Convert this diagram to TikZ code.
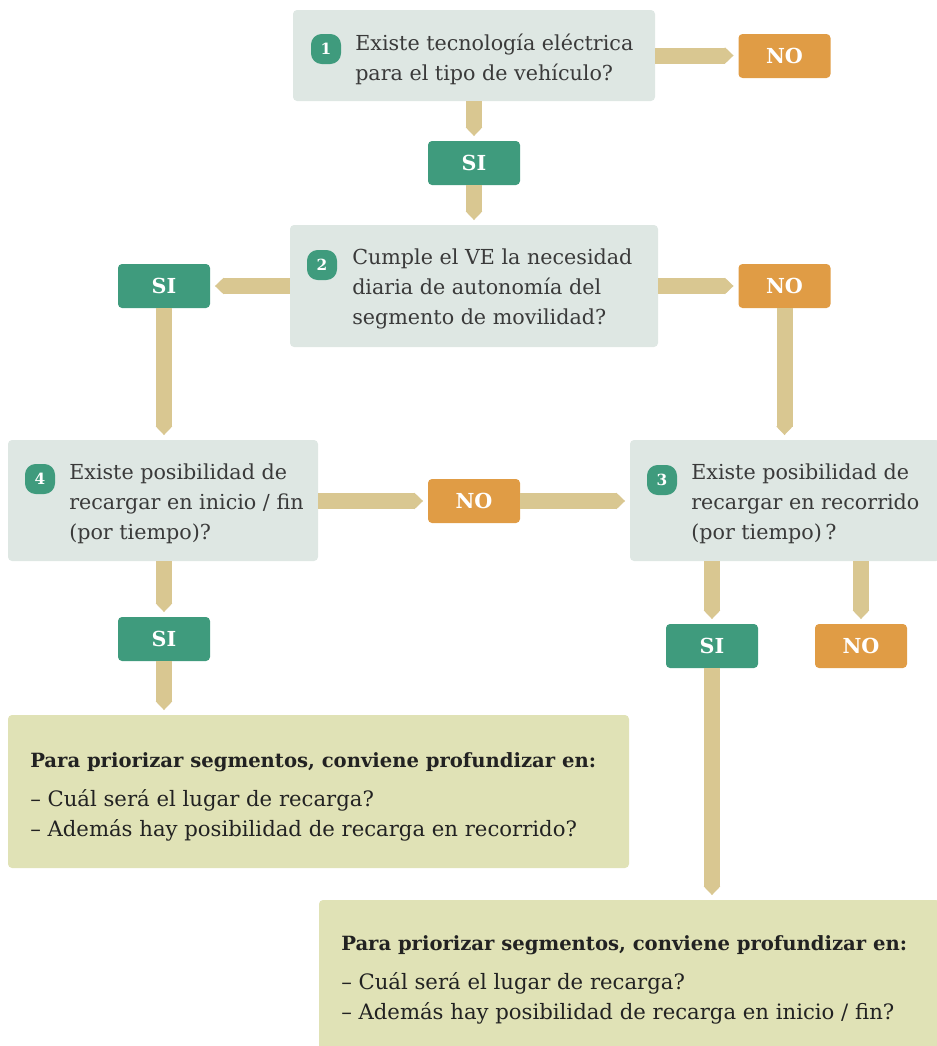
\documentclass[tikz,border=0pt]{standalone}
\usepackage{fontspec}
\setmainfont{DejaVu Serif}
\usepackage{tikz}
\usetikzlibrary{arrows.meta,positioning}
\definecolor{boxgray}{HTML}{DEE7E3}
\definecolor{sumgreen}{HTML}{E0E2B6}
\definecolor{sigreen}{HTML}{3F9B7D}
\definecolor{noorange}{HTML}{E09C45}
\definecolor{bandtan}{HTML}{D9C791}
\definecolor{inkgray}{HTML}{3A3A3A}
\definecolor{inkdark}{HTML}{222222}
\tikzset{
  question/.style={fill=boxgray, rounded corners=3pt, inner sep=0pt},
  summary/.style={fill=sumgreen, rounded corners=3pt, inner sep=0pt},
  answer/.style={rounded corners=3pt, minimum width=69pt, minimum height=33pt, inner sep=0pt,
    text=white, font=\fontsize{15.5}{15.5}\selectfont\bfseries},
  yes/.style={answer, fill=sigreen},
  no/.style={answer, fill=noorange},
  badge/.style={fill=sigreen, rounded corners=8pt, minimum size=22.5pt, inner sep=0pt,
    text=white, font=\fontsize{11.5}{11.5}\selectfont\bfseries},
  qtext/.style={anchor=north west, inner sep=0pt, align=left, text=inkgray,
    font=\fontsize{15.5}{22.5}\selectfont},
  stext/.style={anchor=north west, inner sep=0pt, align=left, text=inkdark,
    font=\fontsize{15.9}{23}\selectfont},
  band/.style={draw=bandtan, line width=12pt, -{Triangle[width=12pt,length=6.5pt]}, shorten >=3.5pt},
}
\begin{document}
\begin{tikzpicture}[x=0.75pt,y=-0.75pt]
  \useasboundingbox (0,0) rectangle (936,1046);

  \node[question, minimum width=271.5pt, minimum height=68.25pt] (q1) at (474,55.5) {};
  \node[badge] (b1) at (326,49) {1};
  \node[qtext] (t1) at (355,34) {Existe tecnología eléctrica\\para el tipo de vehículo?};
  \node[no] (no1) at (784.5,56) {NO};
  \node[yes] (si1) at (474,163) {SI};

  \node[question, minimum width=276pt, minimum height=91.5pt] (q2) at (474,286) {};
  \node[badge] (b2) at (322,265) {2};
  \node[qtext] (t2) at (352,249) {Cumple el VE la necesidad\\diaria de autonomía del\\segmento de movilidad?};
  \node[yes] (si2) at (164,286) {SI};
  \node[no] (no2) at (784.5,286) {NO};

  \node[question, minimum width=232.5pt, minimum height=90.75pt] (q4) at (163,500.5) {};
  \node[badge] (b4) at (40,479) {4};
  \node[qtext] (t4) at (69,464) {Existe posibilidad de\\recargar en inicio / fin\\(por tiempo)?};
  \node[question, minimum width=232.5pt, minimum height=90.75pt] (q3) at (785,500.5) {};
  \node[badge] (b3) at (662,480) {3};
  \node[qtext] (t3) at (691,464) {Existe posibilidad de\\recargar en recorrido\\(por tiempo)\,?};
  \node[no] (no4) at (474,501) {NO};

  \node[yes] (si4) at (164,639) {SI};
  \node[yes] (si3) at (712,646) {SI};
  \node[no] (no3) at (861,646) {NO};

  \node[summary, minimum width=465.75pt, minimum height=114.75pt] (s1) at (318.5,791.5) {};
  \node[stext] (st1) at (30,752) {{\bfseries\fontsize{14.7}{23}\selectfont Para priorizar segmentos, conviene profundizar en:}\\[6.25pt]
    – Cuál será el lugar de recarga?\\– Además hay posibilidad de recarga en recorrido?};
  \node[summary, minimum width=465.75pt, minimum height=120pt] (s2) at (629.5,980) {};
  \node[stext] (st2) at (341,935) {{\bfseries\fontsize{14.7}{23}\selectfont Para priorizar segmentos, conviene profundizar en:}\\[6.25pt]
    – Cuál será el lugar de recarga?\\– Además hay posibilidad de recarga en inicio / fin?};

  \draw[band] (q1.east) -- (q1.east -| no1.west);
  \draw[band] (q1.south) -- (si1.north);
  \draw[band] (si1.south) -- (q2.north);
  \draw[band] (q2.west) -- (si2.east);
  \draw[band] (q2.east) -- (no2.west);
  \draw[band] (si2.south) -- (si2.south |- q4.north);
  \draw[band] (no2.south) -- (no2.south |- q3.north);
  \draw[band] (q4.east |- no4.west) -- (no4.west);
  \draw[band] (no4.east) -- (no4.east -| q3.west);
  \draw[band] (si4.north |- q4.south) -- (si4.north);
  \draw[band] (si4.south) -- (si4.south |- s1.north);
  \draw[band] (si3.north |- q3.south) -- (si3.north);
  \draw[band] (no3.north |- q3.south) -- (no3.north);
  \draw[band] (si3.south) -- (si3.south |- s2.north);
\end{tikzpicture}
\end{document}
